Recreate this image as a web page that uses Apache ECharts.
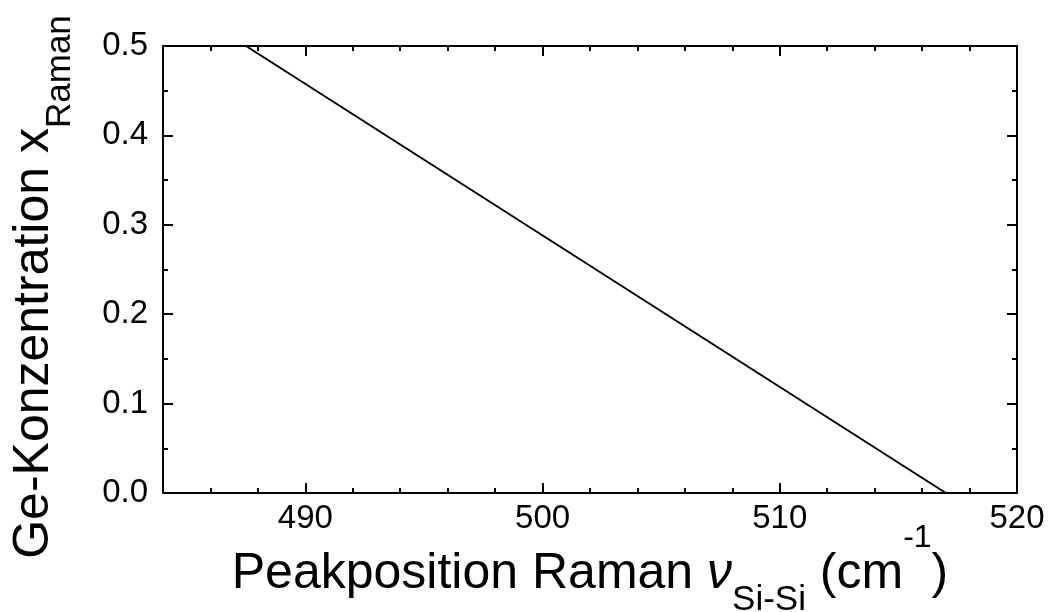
<!DOCTYPE html>
<html>
<head>
<meta charset="utf-8">
<script src="https://cdn.jsdelivr.net/npm/echarts@6/dist/echarts.min.js"></script>
<style>
  html, body { margin: 0; padding: 0; background: #fff; }
  #chart { width: 1048px; height: 612px; }
</style>
</head>
<body>
<div id="chart"></div>
<script>
// Kalibrierlinie: Peakposition (cm^-1) -> Ge-Konzentration
var peakPos = [487.5, 517.0]
var geConc = [0.5, 0.0]

var xMajorTicks = [490, 500, 510, 520]
var xMinorTicks = [486, 488, 492, 494, 496, 498, 502, 504, 506, 508, 512, 514, 516, 518]

var font = 'Liberation Sans, Arial, sans-serif'
var black = '#000'

var rich = {
  main: { fontSize: 50, fontFamily: font, color: black },
  it: { fontSize: 50, fontFamily: font, color: black, fontStyle: 'italic' },
  sub: { fontSize: 35, fontFamily: font, color: black, padding: [52, 0, 0, 0] },
  sup: { fontSize: 32, fontFamily: font, color: black, padding: [0, 0, 72, 0] }
}

const xAxisBase = (pos, ticks, len, labels, line) => ({
  type: 'value',
  position: pos,
  min: 484,
  max: 520,
  axisLine: { show: line, onZero: false, lineStyle: { color: black, width: 2 } },
  axisTick: { show: true, inside: true, length: len, customValues: ticks, lineStyle: { color: black, width: 2 } },
  axisLabel: labels ? { show: true, customValues: xMajorTicks, fontSize: 33, fontFamily: font, color: black, margin: 9 } : { show: false },
  splitLine: { show: false }
})

const yAxisBase = (pos, labels) => ({
  type: 'value',
  position: pos,
  min: 0,
  max: 0.5,
  interval: 0.1,
  axisLine: { show: true, onZero: false, lineStyle: { color: black, width: 2 } },
  axisTick: { show: true, inside: true, length: 10, lineStyle: { color: black, width: 2 } },
  minorTick: { show: true, splitNumber: 2, length: 5, lineStyle: { color: black, width: 2 } },
  axisLabel: labels ? { show: true, fontSize: 33, fontFamily: font, color: black, margin: 15, formatter: v => v.toFixed(1) } : { show: false },
  splitLine: { show: false }
})

var xBottom = xAxisBase('bottom', xMajorTicks, 10, true, true)
xBottom.name = '{main|Peakposition Raman }{it|ν}{sub|Si-Si}{main| (cm}{sup|-1}{main|)}'
xBottom.nameLocation = 'middle'
xBottom.nameGap = 29
xBottom.nameMoveOverlap = false
xBottom.nameTextStyle = { rich: rich }

var yLeft = yAxisBase('left', true)
yLeft.name = '{main|Ge-Konzentration x}{sub|Raman}'
yLeft.nameLocation = 'middle'
yLeft.nameGap = 85
yLeft.nameMoveOverlap = false
yLeft.nameTextStyle = { rich: rich, padding: [0, 35, 0, 0] }

var option = {
  animation: false,
  grid: { left: 163, right: 31, top: 46, bottom: 119, containLabel: false, outerBoundsMode: 'none' },
  xAxis: [
    xBottom,
    xAxisBase('bottom', xMinorTicks, 5, false, false),
    xAxisBase('top', xMajorTicks, 10, false, true),
    xAxisBase('top', xMinorTicks, 5, false, false)
  ],
  yAxis: [
    yLeft,
    yAxisBase('right', false)
  ],
  series: [
    {
      type: 'line',
      xAxisIndex: 0,
      yAxisIndex: 0,
      data: peakPos.map((p, i) => [p, geConc[i]]),
      showSymbol: false,
      lineStyle: { color: black, width: 2 }
    }
  ]
}

const chart = echarts.init(document.getElementById('chart'))
chart.setOption(option)
</script>
</body>
</html>
